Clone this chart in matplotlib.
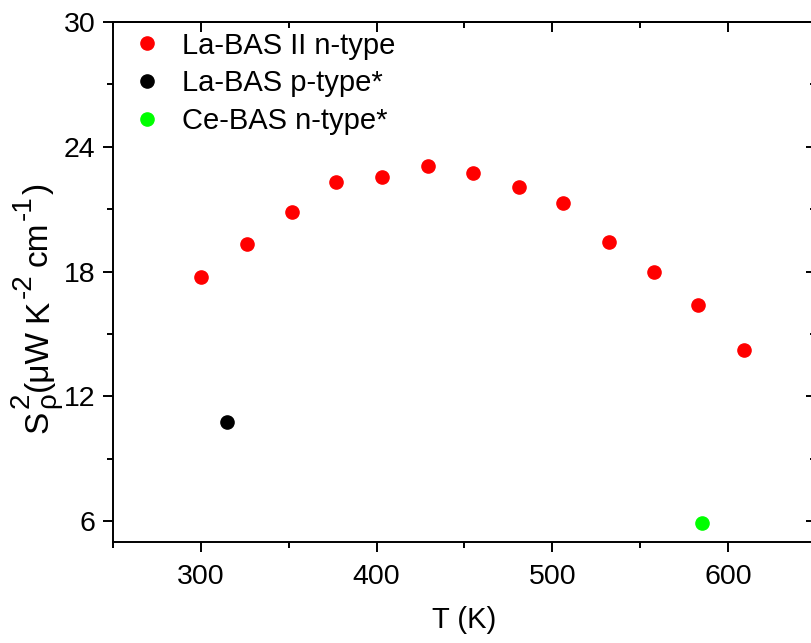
import matplotlib
matplotlib.use('Agg')
import matplotlib.pyplot as plt
from matplotlib.ticker import MultipleLocator
from matplotlib.font_manager import FontProperties

plt.rcParams['font.family'] = 'Liberation Sans'
plt.rcParams['mathtext.fontset'] = 'custom'
plt.rcParams['mathtext.rm'] = 'Liberation Sans'
plt.rcParams['mathtext.default'] = 'regular'

# data
t_la2 = [300, 326, 352, 377, 403, 429, 455, 481, 506, 532, 558, 583, 609]
pf_la2 = [17.76, 19.31, 20.85, 22.33, 22.54, 23.10, 22.75, 22.05, 21.30, 19.40, 18.00, 16.39, 14.24]

t_la_p = [315]
pf_la_p = [10.78]

t_ce = [585]
pf_ce = [5.93]

W, H = 811, 643
fig = plt.figure(figsize=(W / 100, H / 100), dpi=100)
# the right spine sits just past the image edge in the reference
ax = fig.add_axes([113 / W, 1 - 542 / H, 703 / W, 520 / H])

ms = 9.5
ax.plot(t_la2, pf_la2, 'o', color='#ff0000', ms=ms, label='La-BAS II n-type')
ax.plot(t_la_p, pf_la_p, 'o', color='black', ms=ms, label='La-BAS p-type*')
ax.plot(t_ce, pf_ce, 'o', color='#00ff00', ms=ms, label='Ce-BAS n-type*')

ax.set_xlim(250, 650)
ax.set_ylim(5, 30)
ax.xaxis.set_major_locator(MultipleLocator(100))
ax.xaxis.set_minor_locator(MultipleLocator(50))
ax.yaxis.set_major_locator(MultipleLocator(6))
ax.yaxis.set_minor_locator(MultipleLocator(3))

for s in ax.spines.values():
    s.set_linewidth(1.4)

ax.tick_params(which='both', width=1.4, labelsize=20.5)
ax.tick_params(which='major', length=7.5, pad=5)
ax.tick_params(which='minor', length=4)
ax.tick_params(axis='x', which='both', direction='out', pad=8)
ax.tick_params(axis='y', which='both', direction='out')

# mirrored inward ticks on top and right
top = ax.secondary_xaxis('top')
top.set_xticks([300, 400, 500, 600])
top.xaxis.set_minor_locator(MultipleLocator(50))
top.tick_params(which='both', direction='in', width=1.4, labeltop=False)
top.tick_params(which='major', length=7.5)
top.tick_params(which='minor', length=4)
top.spines['top'].set_linewidth(1.4)

right = ax.secondary_yaxis('right')
right.set_yticks([6, 12, 18, 24, 30])
right.yaxis.set_minor_locator(MultipleLocator(3))
right.tick_params(which='both', direction='in', width=1.4, labelright=False)
right.tick_params(which='major', length=7.5)
right.tick_params(which='minor', length=4)

ax.set_xlabel('T (K)', fontsize=21, labelpad=12)

# y label built piece by piece so the superscripts stay large, Origin style
B, S = 24, 20
up = 16      # superscript raise, px
pieces = [
    # (gap before in em of B, text, size, shift px, ismath)
    (0, 'S', B, 0, False),
    (0.03, r'$^{2}_{\rho}$', S / 0.7, 0, True),
    (0.05, '(\u03bcW', B, 0, False),
    (0.22, 'K', B, 0, False),
    (0.03, '-2', S, up, False),
    (0.25, 'cm', B, 0, False),
    (0.03, '-1', S, up, False),
    (0.05, ')', B, 0, False),
]
renderer = fig.canvas.get_renderer()
x_base = 47          # baseline, image px from left
y_pos = H - 433      # start, px from bottom
for gap, txt, size, shift, ismath in pieces:
    y_pos += gap * B * 100 / 72
    fig.text((x_base - shift) / W, y_pos / H, txt, fontsize=size, rotation=90,
             rotation_mode='anchor', ha='left', va='baseline')
    w, h, d = renderer.get_text_width_height_descent(txt, FontProperties(family='Liberation Sans', size=size),
                                                     ismath=ismath)
    y_pos += w

ax.legend(loc='upper left', bbox_to_anchor=(0.0, 1.0 + 2 / 520), frameon=False, fontsize=21,
          handletextpad=0.45, labelspacing=0.33, borderaxespad=0.0, borderpad=0.4,
          handlelength=1.5)

plt.savefig('out.png', dpi=100)
